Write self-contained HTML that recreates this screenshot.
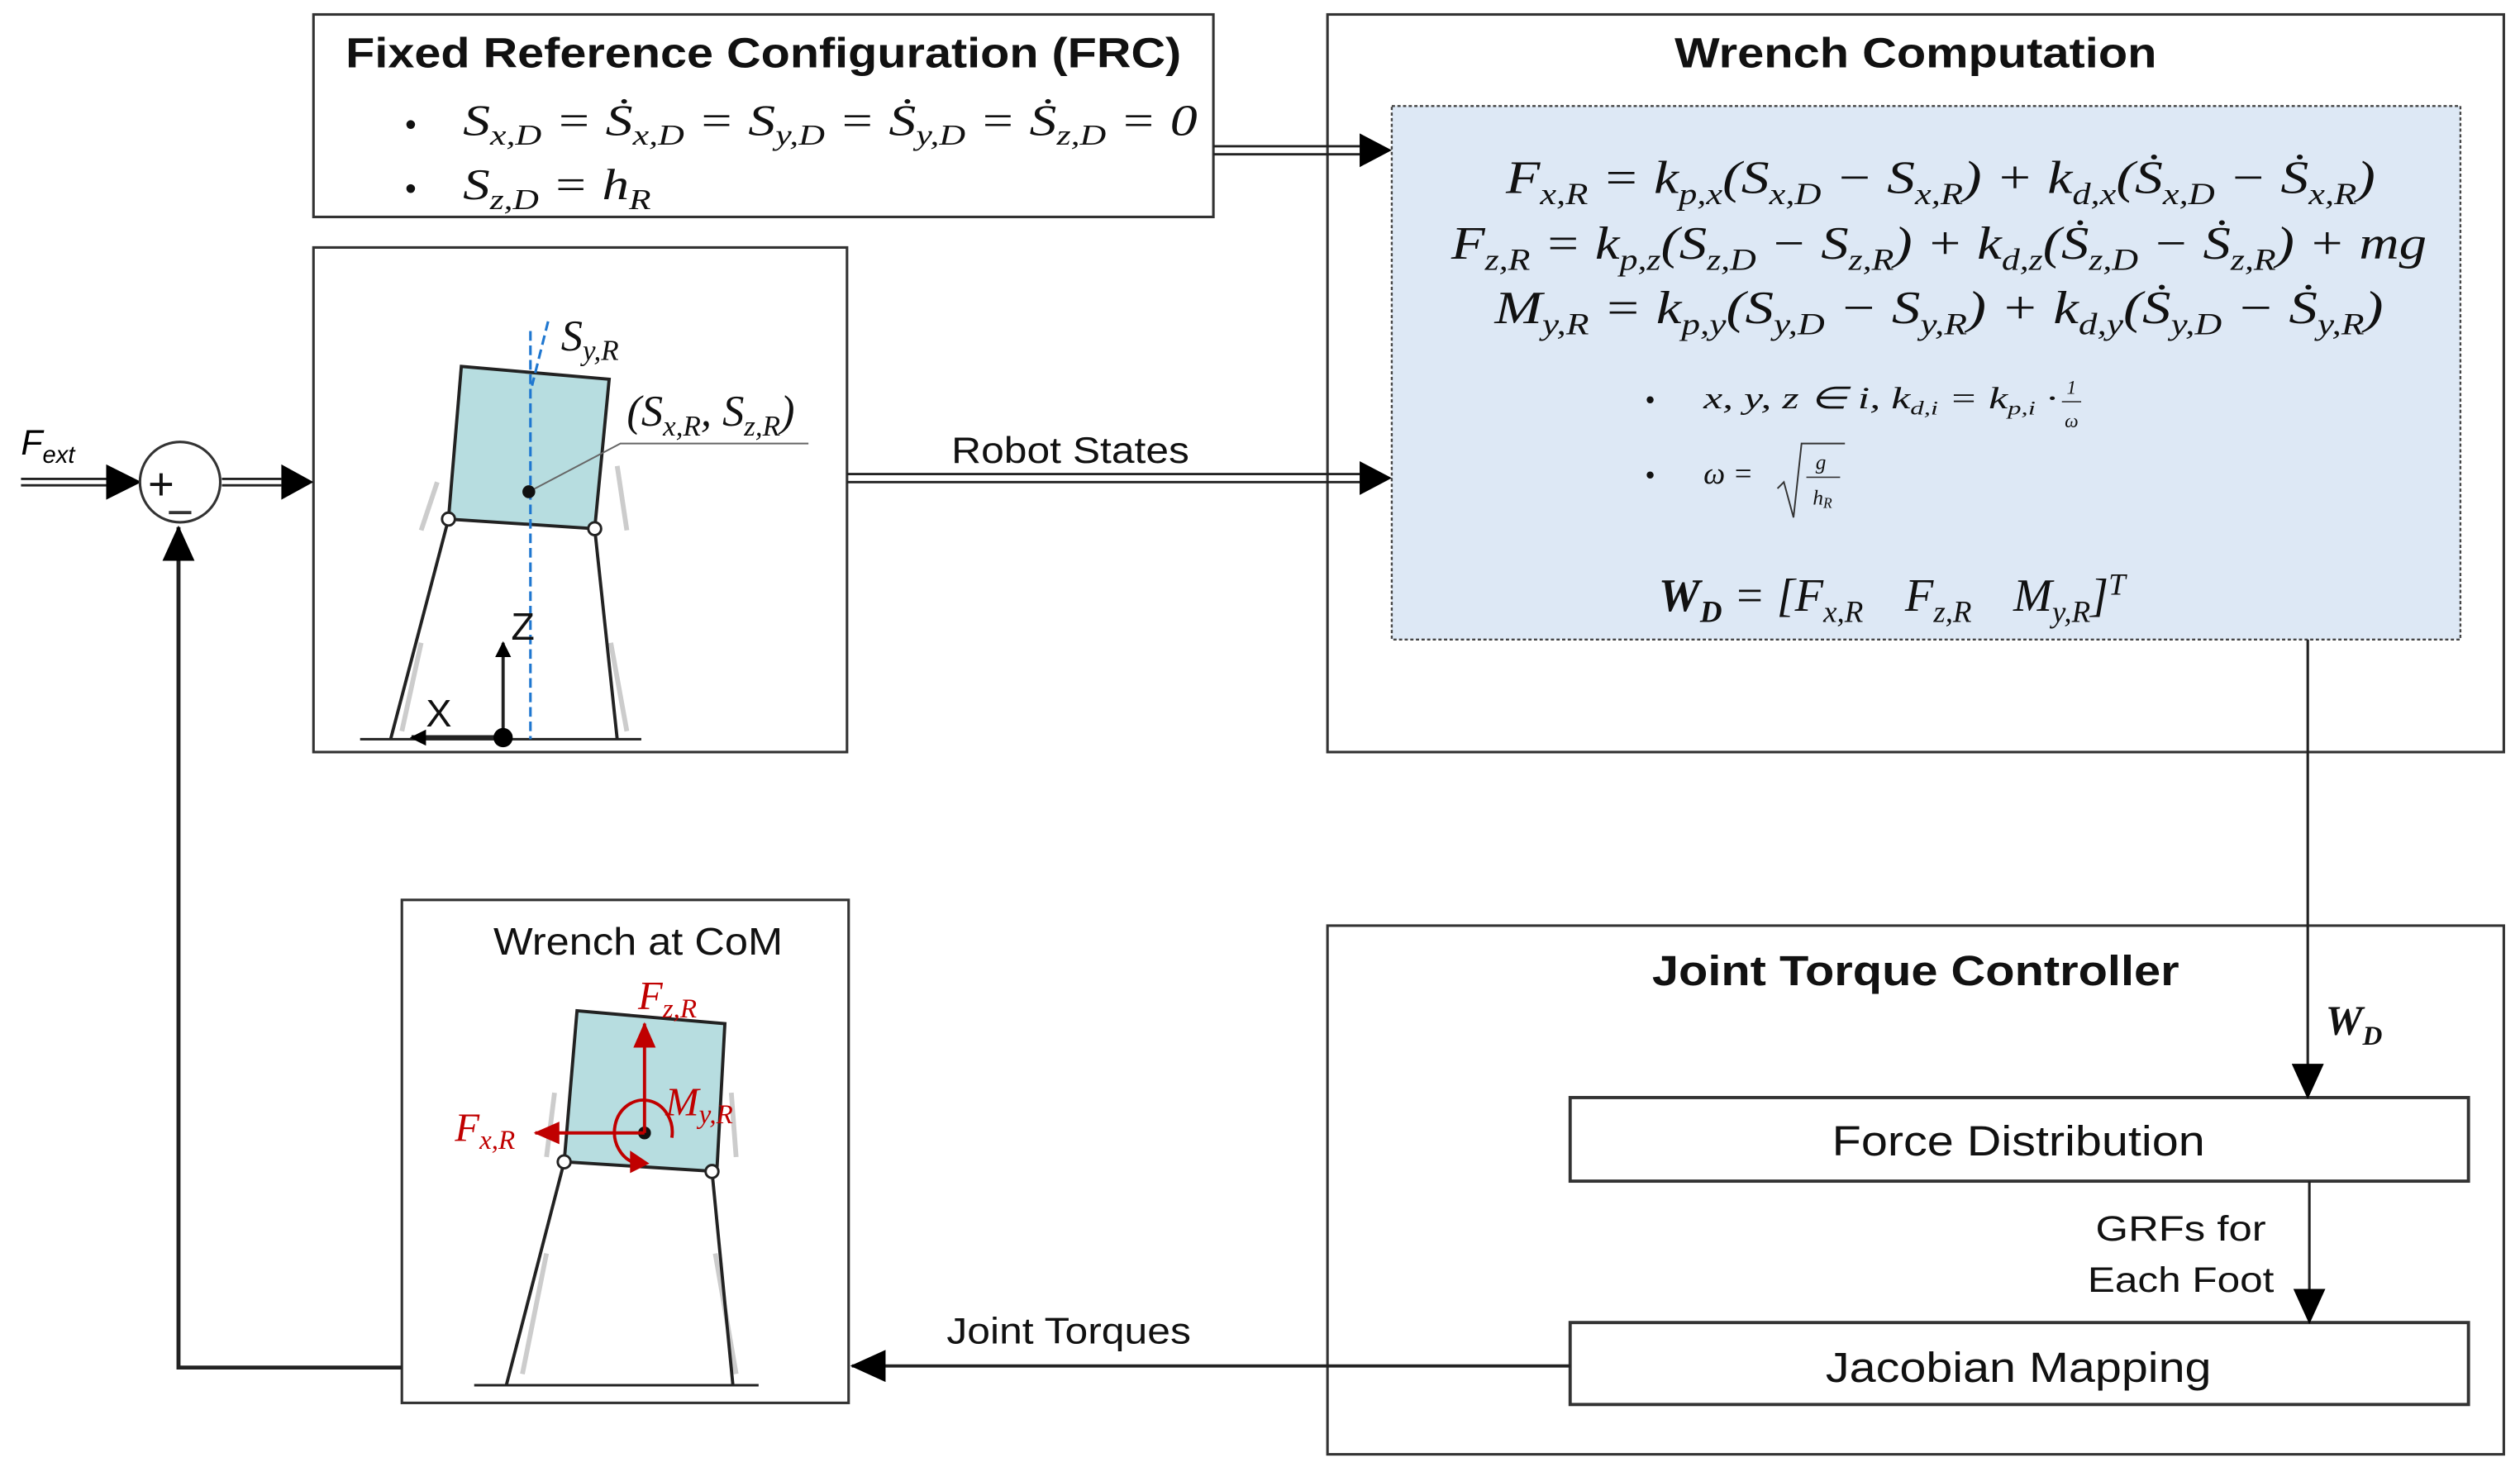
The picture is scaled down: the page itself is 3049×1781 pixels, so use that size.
<!DOCTYPE html>
<html><head><meta charset="utf-8"><style>
html,body{margin:0;padding:0;background:#fff;}
svg{display:block;}
.t{font-family:"Liberation Sans",sans-serif;fill:#111;}
.m{font-family:"Liberation Serif",serif;font-style:italic;fill:#111;}
</style></head><body>
<svg width="3049" height="1781" viewBox="0 0 1568 916" xmlns="http://www.w3.org/2000/svg">
<defs>
<marker id="ah" markerWidth="10" markerHeight="10" refX="9" refY="5" orient="auto" markerUnits="userSpaceOnUse"><path d="M0,0 L10,5 L0,10z" fill="#000"/></marker>
<marker id="ab" markerWidth="22" markerHeight="20" refX="21" refY="10" orient="auto" markerUnits="userSpaceOnUse"><path d="M0,0 L22,10 L0,20z" fill="#000"/></marker>
<marker id="ar" markerWidth="16" markerHeight="14" refX="15" refY="7" orient="auto" markerUnits="userSpaceOnUse"><path d="M0,0 L16,7 L0,14z" fill="#c00000"/></marker>
</defs>
<g fill="none" stroke="#333" stroke-width="1.6">
<rect x="195" y="9" width="560" height="126"/>
<rect x="826" y="9" width="732" height="459"/>
<rect x="195" y="154" width="332" height="314"/>
<rect x="250" y="560" width="278" height="313"/>
<rect x="826" y="576" width="732" height="329"/>
<rect x="977" y="683" width="559" height="52" stroke-width="2"/>
<rect x="977" y="823" width="559" height="51" stroke-width="2"/>
</g>
<rect x="866" y="66" width="665" height="332" fill="#dde8f5" stroke="#444" stroke-width="1.2" stroke-dasharray="2,1.5"/>
<text class="t" x="475" y="42" font-size="26" font-weight="bold" text-anchor="middle" textLength="520" lengthAdjust="spacingAndGlyphs">Fixed Reference Configuration (FRC)</text>
<text class="t" x="1192" y="42" font-size="26" font-weight="bold" text-anchor="middle" textLength="300" lengthAdjust="spacingAndGlyphs">Wrench Computation</text>
<text class="t" x="1192" y="613" font-size="26" font-weight="bold" text-anchor="middle" textLength="328" lengthAdjust="spacingAndGlyphs">Joint Torque Controller</text>
<text class="t" x="1256" y="719" font-size="26" text-anchor="middle" textLength="232" lengthAdjust="spacingAndGlyphs">Force Distribution</text>
<text class="t" x="1256" y="860" font-size="26" text-anchor="middle" textLength="240" lengthAdjust="spacingAndGlyphs">Jacobian Mapping</text>
<text class="t" x="1410" y="772" font-size="22" text-anchor="end" textLength="106" lengthAdjust="spacingAndGlyphs">GRFs for</text>
<text class="t" x="1415" y="804" font-size="22" text-anchor="end" textLength="116" lengthAdjust="spacingAndGlyphs">Each Foot</text>
<text class="t" x="666" y="288" font-size="23" text-anchor="middle" textLength="148" lengthAdjust="spacingAndGlyphs">Robot States</text>
<text class="t" x="665" y="836" font-size="23" text-anchor="middle" textLength="152" lengthAdjust="spacingAndGlyphs">Joint Torques</text>
<text class="t" x="397" y="594" font-size="24" text-anchor="middle" textLength="180" lengthAdjust="spacingAndGlyphs">Wrench at CoM</text>
<text class="t" x="252" y="84" font-size="20">•</text>
<text class="t" x="252" y="124" font-size="20">•</text>
<text class="m" x="288" y="84" font-size="27" textLength="457" lengthAdjust="spacingAndGlyphs">S<tspan font-size="18" dy="6">x,D</tspan><tspan dy="-6"> = Ṡ</tspan><tspan font-size="18" dy="6">x,D</tspan><tspan dy="-6"> = S</tspan><tspan font-size="18" dy="6">y,D</tspan><tspan dy="-6"> = Ṡ</tspan><tspan font-size="18" dy="6">y,D</tspan><tspan dy="-6"> = Ṡ</tspan><tspan font-size="18" dy="6">z,D</tspan><tspan dy="-6"> = 0</tspan></text>
<text class="m" x="288" y="124" font-size="27" textLength="117" lengthAdjust="spacingAndGlyphs">S<tspan font-size="18" dy="6">z,D</tspan><tspan dy="-6"> = h</tspan><tspan font-size="18" dy="6">R</tspan></text>
<text class="m" x="937" y="120" font-size="29" textLength="541" lengthAdjust="spacingAndGlyphs">F<tspan font-size="19" dy="7">x,R</tspan><tspan dy="-7"> = k</tspan><tspan font-size="19" dy="7">p,x</tspan><tspan dy="-7">(S</tspan><tspan font-size="19" dy="7">x,D</tspan><tspan dy="-7"> − S</tspan><tspan font-size="19" dy="7">x,R</tspan><tspan dy="-7">) + k</tspan><tspan font-size="19" dy="7">d,x</tspan><tspan dy="-7">(Ṡ</tspan><tspan font-size="19" dy="7">x,D</tspan><tspan dy="-7"> − Ṡ</tspan><tspan font-size="19" dy="7">x,R</tspan><tspan dy="-7">)</tspan></text>
<text class="m" x="903" y="161" font-size="29" textLength="607" lengthAdjust="spacingAndGlyphs">F<tspan font-size="19" dy="7">z,R</tspan><tspan dy="-7"> = k</tspan><tspan font-size="19" dy="7">p,z</tspan><tspan dy="-7">(S</tspan><tspan font-size="19" dy="7">z,D</tspan><tspan dy="-7"> − S</tspan><tspan font-size="19" dy="7">z,R</tspan><tspan dy="-7">) + k</tspan><tspan font-size="19" dy="7">d,z</tspan><tspan dy="-7">(Ṡ</tspan><tspan font-size="19" dy="7">z,D</tspan><tspan dy="-7"> − Ṡ</tspan><tspan font-size="19" dy="7">z,R</tspan><tspan dy="-7">) + mg</tspan></text>
<text class="m" x="930" y="201" font-size="29" textLength="553" lengthAdjust="spacingAndGlyphs">M<tspan font-size="19" dy="7">y,R</tspan><tspan dy="-7"> = k</tspan><tspan font-size="19" dy="7">p,y</tspan><tspan dy="-7">(S</tspan><tspan font-size="19" dy="7">y,D</tspan><tspan dy="-7"> − S</tspan><tspan font-size="19" dy="7">y,R</tspan><tspan dy="-7">) + k</tspan><tspan font-size="19" dy="7">d,y</tspan><tspan dy="-7">(Ṡ</tspan><tspan font-size="19" dy="7">y,D</tspan><tspan dy="-7"> − Ṡ</tspan><tspan font-size="19" dy="7">y,R</tspan><tspan dy="-7">)</tspan></text>
<text class="t" x="1024" y="254" font-size="16">•</text>
<text class="t" x="1024" y="301" font-size="16">•</text>
<text class="m" x="1060" y="254" font-size="19" fill="#333" textLength="220" lengthAdjust="spacingAndGlyphs">x, y, z ∈ i,  k<tspan font-size="12" dy="4">d,i</tspan><tspan dy="-4"> = k</tspan><tspan font-size="12" dy="4">p,i</tspan><tspan dy="-4"> ·</tspan></text>
<text class="m" x="1289" y="245" font-size="12" text-anchor="middle">1</text>
<line x1="1283" y1="250" x2="1295" y2="250" stroke="#333" stroke-width="0.8"/>
<text class="m" x="1289" y="266" font-size="12" text-anchor="middle">ω</text>
<text class="m" x="1060" y="301" font-size="19" fill="#333">ω =</text>
<path d="M1106,304 L1110,300 L1116,322 L1121,276 L1148,276" fill="none" stroke="#333" stroke-width="1"/>
<text class="m" x="1133" y="292" font-size="13" text-anchor="middle">g</text>
<line x1="1124" y1="297" x2="1145" y2="297" stroke="#333" stroke-width="0.8"/>
<text class="m" x="1134" y="314" font-size="13" text-anchor="middle">h<tspan font-size="9" dy="2">R</tspan></text>
<text class="m" x="1032" y="380" font-size="29"><tspan font-weight="bold">W</tspan><tspan font-size="19" dy="7" font-weight="bold">D</tspan><tspan dy="-7"> = [F</tspan><tspan font-size="19" dy="7">x,R</tspan><tspan dy="-7" dx="26">F</tspan><tspan font-size="19" dy="7">z,R</tspan><tspan dy="-7" dx="26">M</tspan><tspan font-size="19" dy="7">y,R</tspan><tspan dy="-7">]</tspan><tspan font-size="19" dy="-10">T</tspan></text>
<text class="m" x="1447" y="644" font-size="26" font-weight="bold">W<tspan font-size="17" dy="6">D</tspan></text>
<g stroke="#222" fill="none">
<line x1="755" y1="91" x2="846" y2="91" stroke-width="1.5"/>
<line x1="755" y1="96" x2="846" y2="96" stroke-width="1.5"/>
<line x1="527" y1="295" x2="846" y2="295" stroke-width="1.5"/>
<line x1="527" y1="300" x2="846" y2="300" stroke-width="1.5"/>
<line x1="13" y1="298" x2="66" y2="298" stroke-width="1.5"/>
<line x1="13" y1="302" x2="66" y2="302" stroke-width="1.5"/>
<line x1="138" y1="298" x2="175" y2="298" stroke-width="1.5"/>
<line x1="138" y1="302" x2="175" y2="302" stroke-width="1.5"/>
<line x1="1436" y1="398" x2="1436" y2="683" stroke-width="1.6" marker-end="url(#ab)"/>
<line x1="1437" y1="735" x2="1437" y2="823" stroke-width="1.6" marker-end="url(#ab)"/>
<line x1="977" y1="850" x2="530" y2="850" stroke-width="2" marker-end="url(#ab)"/>
<polyline points="250,851 111,851 111,328" stroke-width="2.5" marker-end="url(#ab)"/>
</g>
<path d="M846,83 L866,93.5 L846,104z M846,287 L866,297.5 L846,308z M66,289 L88,300 L66,311z M175,289 L195,300 L175,311z" fill="#000"/>
<circle cx="112" cy="300" r="25" fill="#fff" stroke="#333" stroke-width="1.6"/>
<text class="t" x="92" y="311" font-size="28">+</text>
<line x1="105" y1="319" x2="119" y2="319" stroke="#333" stroke-width="2"/>
<text x="13" y="283" font-size="22" font-style="italic" style="font-family:'Liberation Sans',sans-serif">F<tspan font-size="15" dy="5">ext</tspan></text>
<g stroke="#ccc" stroke-width="3" fill="none">
<path d="M272,300 L262,330 M384,290 L390,330 M262,400 L250,455 M380,400 L390,455"/>
</g>
<polygon points="287,228 379,236 370,329 279,323" fill="#b7dde0" stroke="#222" stroke-width="2"/>
<g stroke="#222" stroke-width="2" fill="none">
<line x1="279" y1="323" x2="243" y2="460"/>
<line x1="370" y1="329" x2="384" y2="460"/>
<line x1="224" y1="460" x2="399" y2="460" stroke-width="1.5"/>
<line x1="313" y1="459" x2="313" y2="400" marker-end="url(#ah)"/>
<line x1="313" y1="459" x2="256" y2="459" stroke-width="3" marker-end="url(#ah)"/>
</g>
<circle cx="279" cy="323" r="4" fill="#fff" stroke="#222" stroke-width="1.5"/>
<circle cx="370" cy="329" r="4" fill="#fff" stroke="#222" stroke-width="1.5"/>
<circle cx="313" cy="459" r="6" fill="#000"/>
<line x1="330" y1="206" x2="330" y2="460" stroke="#1f77d0" stroke-width="1.6" stroke-dasharray="6,3"/>
<line x1="341" y1="200" x2="331" y2="240" stroke="#1f77d0" stroke-width="1.6" stroke-dasharray="6,3"/>
<polyline points="329,306 386,276 503,276" fill="none" stroke="#666" stroke-width="1"/>
<circle cx="329" cy="306" r="4" fill="#111"/>
<text class="t" x="318" y="398" font-size="24">Z</text>
<text class="t" x="265" y="452" font-size="24">X</text>
<text class="m" x="349" y="218" font-size="27">S<tspan font-size="18" dy="6">y,R</tspan></text>
<text class="m" x="390" y="265" font-size="27">(S<tspan font-size="18" dy="6">x,R</tspan><tspan dy="-6">, S</tspan><tspan font-size="18" dy="6">z,R</tspan><tspan dy="-6">)</tspan></text>
<g stroke="#ccc" stroke-width="3" fill="none">
<path d="M345,680 L340,720 M455,680 L458,720 M340,780 L325,855 M445,780 L458,855"/>
</g>
<polygon points="359,629 451,637 446,729 351,723" fill="#b7dde0" stroke="#222" stroke-width="2"/>
<g stroke="#222" stroke-width="2" fill="none">
<line x1="351" y1="723" x2="315" y2="862"/>
<line x1="443" y1="729" x2="456" y2="862"/>
<line x1="295" y1="862" x2="472" y2="862" stroke-width="1.5"/>
</g>
<circle cx="351" cy="723" r="4" fill="#fff" stroke="#222" stroke-width="1.5"/>
<circle cx="443" cy="729" r="4" fill="#fff" stroke="#222" stroke-width="1.5"/>
<circle cx="401" cy="705" r="4" fill="#111"/>
<g stroke="#c00000" stroke-width="2" fill="none">
<line x1="401" y1="705" x2="401" y2="637" marker-end="url(#ar)"/>
<line x1="401" y1="705" x2="333" y2="705" marker-end="url(#ar)"/>
<path d="M418,708 A18,20 0 1 0 396,724" />
</g>
<path d="M392,716 L404,724 L392,730z" fill="#c00000"/>
<text class="m" x="397" y="628" font-size="25" style="fill:#c00000">F<tspan font-size="17" dy="5">z,R</tspan></text>
<text class="m" x="283" y="710" font-size="25" style="fill:#c00000">F<tspan font-size="17" dy="5">x,R</tspan></text>
<text class="m" x="414" y="694" font-size="25" style="fill:#c00000">M<tspan font-size="17" dy="5">y,R</tspan></text>
</svg>
</body></html>
